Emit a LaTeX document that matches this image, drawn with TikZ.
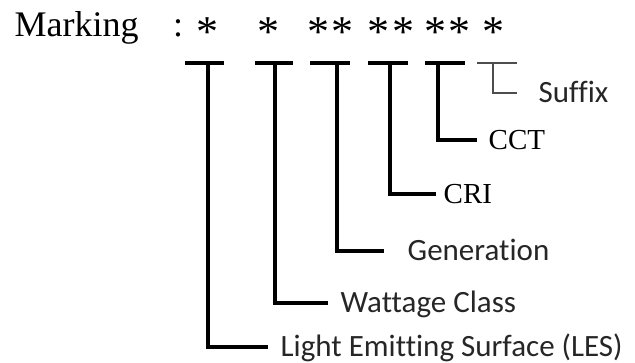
\documentclass[tikz,border=0pt]{standalone}
\usepackage{fontspec}
\setmainfont{Liberation Serif}
\newfontfamily\labelfont[Ligatures=NoCommon]{Carlito}
\usetikzlibrary{positioning}
\definecolor{suffixgray}{HTML}{4D4D4D}
\definecolor{textdark}{HTML}{262626}

\tikzset{
	headtext/.style={inner sep=0pt, font=\fontsize{36}{36}\selectfont},
	startext/.style={inner sep=0pt, anchor=base, font=\fontsize{44}{44}\selectfont},
	seriflabel/.style={inner sep=0pt, font=\fontsize{29}{29}\selectfont, text height=20pt, text depth=0pt},
	sanslabel/.style={inner sep=0pt, text=textdark, font=\labelfont\fontsize{31}{31}\selectfont, text height=19pt, text depth=0pt},
}

\begin{document}
\begin{tikzpicture}[x=1pt, y=-1pt, line width=3.4pt]
		\useasboundingbox (0,0) rectangle (635,363);
		
		\node[headtext, anchor=base west] (marking) at (13,37) {Marking};
		\node[headtext, anchor=base] (colon) at (178,37) {:};
		
		\node[startext] (s1) at (207,47) {*};
		\node[startext] (s2) at (268,47) {*};
		\node[startext] (s3) at (318,47) {*};
		\node[startext] (s4) at (342,47) {*};
		\node[startext] (s5) at (378,47) {*};
		\node[startext] (s6) at (403,47) {*};
		\node[startext] (s7) at (435,47) {*};
		\node[startext] (s8) at (459,47) {*};
		\node[startext] (s9) at (493,47) {*};
		
		% light emitting surface
		\coordinate (lesL) at (185,63);
		\coordinate (lesR) at (224,63);
		\coordinate (lesT) at (208,63);
		\coordinate (lesE) at (268,347);
		\node[sanslabel, right=11pt of lesE] (les) {Light Emitting Surface (LES)};
		\draw (lesL) -- (lesR);
		\draw (lesT) |- (lesE);
		
		% wattage class
		\coordinate (watL) at (255,63);
		\coordinate (watR) at (293,63);
		\coordinate (watT) at (275,63);
		\coordinate (watE) at (328,303);
		\node[sanslabel, right=11pt of watE] (wat) {Wattage Class};
		\draw (watL) -- (watR);
		\draw (watT) |- (watE);
		
		% generation
		\coordinate (genL) at (310,63);
		\coordinate (genR) at (350,63);
		\coordinate (genT) at (337,63);
		\coordinate (genE) at (384,251);
		\node[sanslabel, right=22pt of genE] (gen) {Generation};
		\draw (genL) -- (genR);
		\draw (genT) |- (genE);
		
		% CRI
		\coordinate (criL) at (368,63);
		\coordinate (criR) at (408,63);
		\coordinate (criT) at (390,63);
		\coordinate (criE) at (436,194);
		\node[seriflabel, right=6pt of criE] (cri) {CRI};
		\draw (criL) -- (criR);
		\draw (criT) |- (criE);
		
		% CCT
		\coordinate (cctL) at (425,63);
		\coordinate (cctR) at (465,63);
		\coordinate (cctT) at (438,63);
		\coordinate (cctE) at (477,140);
		\node[seriflabel, right=10pt of cctE] (cct) {CCT};
		\draw (cctL) -- (cctR);
		\draw (cctT) |- (cctE);
		
		% suffix
		\coordinate (sufL) at (477,63);
		\coordinate (sufR) at (517,63);
		\coordinate (sufT) at (493,63);
		\coordinate (sufE) at (517,93);
		\node[sanslabel, right=20pt of sufE] (suf) {Suffix};
		\draw[suffixgray, line width=2.2pt] (sufL) -- (sufR);
		\draw[suffixgray, line width=2.2pt] (sufT) |- (sufE);
\end{tikzpicture}
\end{document}
